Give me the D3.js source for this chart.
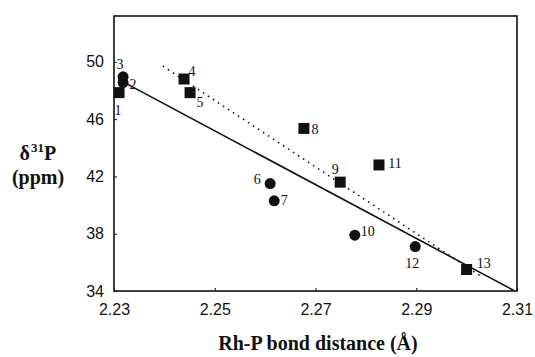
<!DOCTYPE html>
<html>
<head>
<meta charset="utf-8">
<script src="https://cdn.jsdelivr.net/npm/d3@7"></script>
<style>
  body { margin: 0; background: #fff; }
  svg { display: block; }
</style>
</head>
<body>
<svg id="chart" width="535" height="357"></svg>
<script>
// Rh-P bond distance vs 31P shift
const ids = ['1', '2', '3', '4', '5', '6', '7', '8', '9', '10', '11', '12', '13'];
const bondDist = [2.231, 2.2318, 2.2318, 2.2439, 2.2451, 2.261, 2.2618, 2.2677, 2.2749, 2.2778, 2.2826, 2.2898, 2.3];
const shift = [47.85, 48.55, 48.95, 48.8, 47.85, 41.5, 40.3, 45.35, 41.6, 37.9, 42.8, 37.1, 35.5];
const shape = ['sq', 'ci', 'ci', 'sq', 'sq', 'ci', 'ci', 'sq', 'sq', 'ci', 'sq', 'ci', 'sq'];
// label offsets relative to the marker
const labelDx = [-1, 10, -3, 8, 10, -13, 10, 11, -5, 13, 16, -3, 17];
const labelDy = [17, 1, -13, -8, 9, -4, -1, 1, -13, -4, -2, 17, -6];

const xTicks = [2.23, 2.25, 2.27, 2.29, 2.31];
const yTicks = [34, 38, 42, 46, 50];

const solidFit = [[2.2318, 48.6], [2.3093, 34.05]];
const dottedFit = [[2.2397, 49.7], [2.3032, 34.95]];

const svg = d3.select('#chart');
const x = d3.scaleLinear().domain([2.23, 2.31]).range([114, 517]);
const y = d3.scaleLinear().domain([34, 53.2]).range([291, 16]);

// frame
svg.append('rect')
  .attr('x', 114).attr('y', 16)
  .attr('width', 403).attr('height', 275)
  .attr('fill', 'none')
  .attr('stroke', '#111')
  .attr('stroke-width', 1.6);

const xAxis = svg.append('g')
  .attr('transform', 'translate(0,291)')
  .call(d3.axisBottom(x).tickValues(xTicks).tickSizeInner(-3).tickSizeOuter(0).tickPadding(13)
    .tickFormat(d3.format('.2f')));
xAxis.select('.domain').remove();
xAxis.selectAll('line').attr('stroke', '#111');
xAxis.selectAll('text')
  .attr('font-family', '"Liberation Sans", Arial, sans-serif')
  .attr('font-size', 16)
  .attr('fill', '#111');

const yAxis = svg.append('g')
  .attr('transform', 'translate(114,0)')
  .call(d3.axisLeft(y).tickValues(yTicks).tickSizeInner(-3).tickSizeOuter(0).tickPadding(10));
yAxis.select('.domain').remove();
yAxis.selectAll('line').attr('stroke', '#111');
yAxis.selectAll('text')
  .attr('font-family', '"Liberation Sans", Arial, sans-serif')
  .attr('font-size', 16)
  .attr('fill', '#111');

const line = d3.line().x(d => x(d[0])).y(d => y(d[1]));

svg.append('path')
  .attr('d', line(solidFit))
  .attr('fill', 'none')
  .attr('stroke', '#111')
  .attr('stroke-width', 1.6);

svg.append('path')
  .attr('d', line(dottedFit))
  .attr('fill', 'none')
  .attr('stroke', '#111')
  .attr('stroke-width', 1.6)
  .attr('stroke-dasharray', '1.5,4.5');

const pts = ids.map((id, i) => ({ id, x: bondDist[i], y: shift[i], s: shape[i], dx: labelDx[i], dy: labelDy[i] }));

svg.append('g').selectAll('circle')
  .data(pts.filter(d => d.s === 'ci'))
  .join('circle')
  .attr('cx', d => x(d.x))
  .attr('cy', d => y(d.y))
  .attr('r', 5.5)
  .attr('fill', '#111');

svg.append('g').selectAll('rect')
  .data(pts.filter(d => d.s === 'sq'))
  .join('rect')
  .attr('x', d => x(d.x) - 5.5)
  .attr('y', d => y(d.y) - 5.5)
  .attr('width', 11)
  .attr('height', 11)
  .attr('fill', '#111');

svg.append('g').selectAll('text')
  .data(pts)
  .join('text')
  .attr('x', d => x(d.x) + d.dx)
  .attr('y', d => y(d.y) + d.dy)
  .attr('dy', '0.35em')
  .attr('text-anchor', 'middle')
  .attr('font-family', '"Liberation Serif", "Times New Roman", serif')
  .attr('font-size', 14)
  .attr('fill', '#111')
  .text(d => d.id);

// axis titles
const ttl = svg.append('g')
  .attr('font-family', '"Liberation Serif", "Times New Roman", serif')
  .attr('font-weight', 'bold')
  .attr('fill', '#111');

ttl.append('text').attr('x', 30).attr('y', 160).attr('text-anchor', 'end').attr('font-size', 20).text('δ');
ttl.append('text').attr('x', 31).attr('y', 152).attr('font-size', 13).text('31');
ttl.append('text').attr('x', 44).attr('y', 160).attr('font-size', 20).text('P');

ttl.append('text').attr('x', 38).attr('y', 184).attr('text-anchor', 'middle').attr('font-size', 20).text('(ppm)');

ttl.append('text').attr('x', 318).attr('y', 350).attr('text-anchor', 'middle').attr('font-size', 20).text('Rh-P bond distance (Å)');
</script>
</body>
</html>
